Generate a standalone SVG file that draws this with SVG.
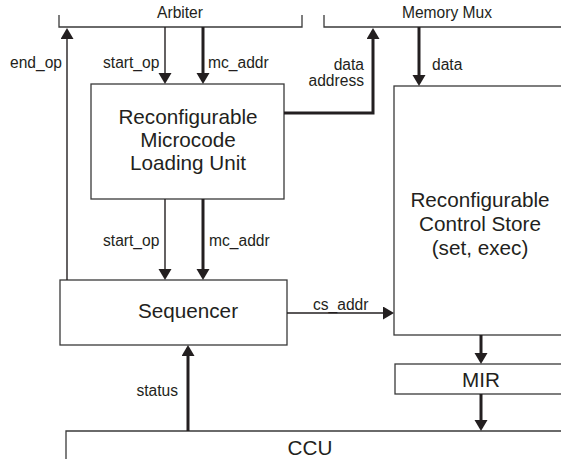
<svg xmlns="http://www.w3.org/2000/svg" width="561" height="459" viewBox="0 0 561 459">
  <style>
    .box { fill: #ffffff; stroke: #3a3a3a; stroke-width: 1.3; }
    .bus { fill: none; stroke: #3a3a3a; stroke-width: 1.3; }
    .thin { fill: none; stroke: #231f20; stroke-width: 1.4; }
    .thick { fill: none; stroke: #231f20; stroke-width: 3; }
    .lbl { font-family: "Liberation Sans", Arial, sans-serif; font-size: 15.6px; fill: #231f20; }
    .big { font-family: "Liberation Sans", Arial, sans-serif; font-size: 20.7px; fill: #231f20; text-anchor: middle; }
    .mid { text-anchor: middle; }
    .end { text-anchor: end; }
  </style>
  <defs>
    <marker id="arrow" markerUnits="userSpaceOnUse" markerWidth="12" markerHeight="14" refX="8" refY="6.5" orient="auto">
      <path d="M0,0 L11,6.5 L0,13 z" fill="#231f20"/>
    </marker>
  </defs>

  <rect width="561" height="459" fill="#ffffff"/>

  <!-- external buses -->
  <g id="arbiter">
    <polyline class="bus" points="59,15 59,27 302,27 302,15"/>
    <text class="lbl mid" x="180" y="18">Arbiter</text>
  </g>
  <g id="memory-mux">
    <polyline class="bus" points="324,15 324,27 561,27"/>
    <text class="lbl mid" x="447" y="18">Memory Mux</text>
  </g>
  <g id="ccu">
    <polyline class="bus" points="66,459 66,431 561,431"/>
    <text class="big" x="310" y="455">CCU</text>
  </g>

  <!-- blocks -->
  <g id="rmlu">
    <rect class="box" x="91" y="84" width="193" height="115"/>
    <text class="big" x="188" y="124">Reconfigurable</text>
    <text class="big" x="188" y="147">Microcode</text>
    <text class="big" x="188" y="170">Loading Unit</text>
  </g>
  <g id="sequencer">
    <rect class="box" x="60" y="280" width="227" height="65"/>
    <text class="big" x="188" y="318">Sequencer</text>
  </g>
  <g id="control-store">
    <rect class="box" x="394" y="86" width="180" height="249"/>
    <text class="big" x="480" y="207">Reconfigurable</text>
    <text class="big" x="480" y="231">Control Store</text>
    <text class="big" x="480" y="255">(set, exec)</text>
  </g>
  <g id="mir">
    <rect class="box" x="395" y="364" width="180" height="30"/>
    <text class="big" x="481" y="387">MIR</text>
  </g>

  <!-- signals -->
  <g id="connectors">
    <line class="thin" x1="67" y1="280" x2="67" y2="31" marker-end="url(#arrow)"/>
    <line class="thin" x1="165" y1="27" x2="165" y2="81" marker-end="url(#arrow)"/>
    <line class="thick" x1="203" y1="27" x2="203" y2="81" marker-end="url(#arrow)"/>
    <polyline class="thick" points="284,113 373,113 373,31" marker-end="url(#arrow)"/>
    <line class="thick" x1="419" y1="27" x2="419" y2="83" marker-end="url(#arrow)"/>
    <line class="thin" x1="165" y1="199" x2="165" y2="277" marker-end="url(#arrow)"/>
    <line class="thick" x1="203" y1="199" x2="203" y2="277" marker-end="url(#arrow)"/>
    <line class="thin" x1="287" y1="313" x2="391" y2="313" marker-end="url(#arrow)"/>
    <line class="thick" x1="481" y1="335" x2="481" y2="361" marker-end="url(#arrow)"/>
    <line class="thick" x1="481" y1="394" x2="481" y2="428" marker-end="url(#arrow)"/>
    <line class="thick" x1="188" y1="431" x2="188" y2="348" marker-end="url(#arrow)"/>
  </g>

  <!-- signal names -->
  <g id="signal-labels">
    <text class="lbl" x="10" y="68">end_op</text>
    <text class="lbl" x="103" y="68">start_op</text>
    <text class="lbl" x="208" y="68">mc_addr</text>
    <text class="lbl end" x="364" y="70">data</text>
    <text class="lbl end" x="364" y="86">address</text>
    <text class="lbl" x="432" y="70">data</text>
    <text class="lbl" x="103" y="246">start_op</text>
    <text class="lbl" x="209" y="246">mc_addr</text>
    <text class="lbl" x="313" y="310">cs_addr</text>
    <text class="lbl end" x="178" y="396">status</text>
  </g>
</svg>
